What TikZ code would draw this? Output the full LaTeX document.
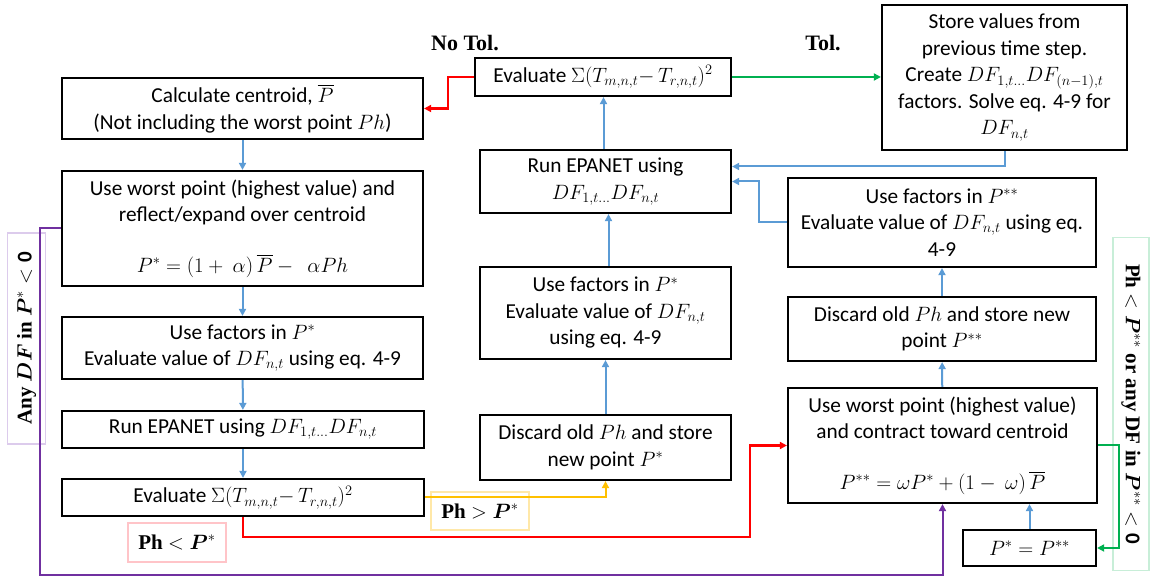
\documentclass[tikz,border=0pt]{standalone}
\usepackage{amsmath,amssymb,bm}
\usepackage{fontspec}
\setmainfont{Carlito}
\newfontfamily\lblfont{Liberation Serif}
\usetikzlibrary{arrows.meta,positioning,calc}
\definecolor{fblue}{HTML}{5B9BD5}
\definecolor{fred}{HTML}{FF0000}
\definecolor{fgreen}{HTML}{00B050}
\definecolor{fyellow}{HTML}{FFC000}
\definecolor{fpurple}{HTML}{7030A0}
\definecolor{tpink}{HTML}{FFC4C8}
\definecolor{tyellow}{HTML}{FFE8A8}
\definecolor{tpurple}{HTML}{DCCBEC}
\definecolor{tgreen}{HTML}{C8EED8}
\newcommand{\pbar}{\overline{P}}
\tikzset{
  box/.style={draw=black,line width=2.2pt,fill=white,align=center,font=\fontsize{21.3}{26.5}\selectfont,inner sep=2pt},
  tag/.style={line width=1.6pt,align=center,font=\fontsize{21}{24}\selectfont\lblfont\bfseries,inner sep=2pt},
  head/.style={font=\fontsize{22}{24}\selectfont\lblfont\bfseries},
  barr/.style={-{Triangle[length=7pt,width=7pt]},line width=2pt,draw=fblue},
  rarr/.style={-{Triangle[length=7pt,width=7pt]},line width=2.4pt,draw=fred},
  garr/.style={-{Triangle[length=7pt,width=7pt]},line width=2pt,draw=fgreen},
  yarr/.style={-{Triangle[length=7pt,width=7pt]},line width=2pt,draw=fyellow},
  parr/.style={-{Triangle[length=7pt,width=7pt]},line width=2pt,draw=fpurple},
}

\begin{document}
\begin{tikzpicture}[x=1pt,y=1pt]
  \useasboundingbox (0,0) rectangle (1152,577);

  % left column: reflection step
  \node[box,minimum width=361,minimum height=61] (cent) at (242.5,468.5)
    {Calculate centroid, $\pbar$\\(Not including the worst point $Ph$)};
  \node[box,minimum width=361,minimum height=115] (refl) at (242.5,348.5)
    {Use worst point (highest value) and\\reflect/expand over centroid\\[24pt]
     $P^{*}=(1+\ \alpha)\,\pbar-\ \ \alpha Ph$};
  \node[box,minimum width=361,minimum height=62] (fac) at (242.5,229)
    {Use factors in $P^{*}$\\Evaluate value of $DF_{n,t}$ using eq. 4-9};
  \node[box,minimum width=362,minimum height=37] (run) at (243,147.5)
    {Run EPANET using $DF_{1,t\ldots}DF_{n,t}$};
  \node[box,minimum width=362,minimum height=37] (eval) at (243,79.5)
    {Evaluate $\Sigma(T_{m,n,t}{-}\,T_{r,n,t})^{2}$};

  % middle column: accept the reflected point
  \node[box,minimum width=256,minimum height=38] (evtop) at (603,500)
    {Evaluate $\Sigma(T_{m,n,t}{-}\,T_{r,n,t})^{2}$};
  \node[box,minimum width=251,minimum height=63] (runm) at (605.5,395.5)
    {Run EPANET using\\$DF_{1,t\ldots}DF_{n,t}$};
  \node[box,minimum width=251,minimum height=92] (facm) at (605.5,264)
    {Use factors in $P^{*}$\\Evaluate value of $DF_{n,t}$\\using eq. 4-9};
  \node[box,minimum width=251,minimum height=65] (discm) at (605.5,129.5)
    {Discard old $Ph$ and store\\new point $P^{*}$};

  % right column: contraction step
  \node[box,minimum width=245,minimum height=145] (store) at (1004.5,499.5)
    {Store values from\\previous time step.\\Create $DF_{1,t\ldots}DF_{(n-1),t}$\\factors. Solve eq. 4-9 for\\$DF_{n,t}$};
  \node[box,minimum width=308,minimum height=89] (facr) at (942,354.5)
    {Use factors in $P^{**}$\\Evaluate value of $DF_{n,t}$ using eq.\\4-9};
  \node[box,minimum width=308,minimum height=64] (discr) at (942,248)
    {Discard old $Ph$ and store new\\point $P^{**}$};
  \node[box,minimum width=309,minimum height=115] (contr) at (942.5,131.5)
    {Use worst point (highest value)\\and contract toward centroid\\[24pt]
     $P^{**}=\omega P^{*}+(1-\ \omega)\,\pbar$};
  \node[box,minimum width=133,minimum height=36] (pstar) at (1029.5,29)
    {$P^{*}=P^{**}$};

  % condition labels
  \node[head] (notol) at (465,534) {No Tol.};
  \node[head] (tol) at (823,534) {Tol.};
  \node[tag,draw=tpink,minimum width=98,minimum height=39] (lblless) at (177,34.5)
    {Ph $<\bm{P}^{*}$};
  \node[tag,draw=tyellow,minimum width=98,minimum height=38] (lblmore) at (480,66)
    {Ph $>\bm{P}^{*}$};
  \node[tag,draw=tpurple,rotate=90,minimum width=211,minimum height=38] (lblany) at (26.5,238.5)
    {Any $\bm{DF}$ in $\bm{P}^{*}<\mathbf{0}$};
  \node[tag,draw=tgreen,rotate=-90,minimum width=333,minimum height=36] (lblcon) at (1131,173)
    {Ph $<\bm{P}^{**}$ or any DF in $\bm{P}^{**}<\mathbf{0}$};

  \coordinate (redbend) at (750,40);
  \coordinate (pbot) at (40,2);

  % connectors
  \draw[barr] (cent) -- (refl);
  \draw[barr] (refl) -- (fac);
  \draw[barr] (fac) -- (run);
  \draw[barr] (run) -- (eval);
  \draw[yarr] (eval.east) -| (discm.south);
  \draw[rarr] (eval.south) |- (redbend) |- (contr.west);
  \draw[barr] (discm) -- (facm);
  \draw[barr] ([xshift=3pt]facm.north) -- ([xshift=3pt]runm.south);
  \draw[barr] ([xshift=-2pt]runm.north) -- ([xshift=-2pt]runm.north |- evtop.south);
  \draw[rarr] (evtop.west) -- ++(-26,0) |- (cent.east);
  \draw[garr] (evtop.east) -- (store.west |- evtop.east);
  \draw[barr] (store.south) |- ([yshift=15pt]runm.east);
  \draw[barr] (facr.west) -- ++(-28,0) |- (runm.east);
  \draw[barr] (discr) -- (facr);
  \draw[barr] (contr) -- (discr);
  \draw[barr] (pstar.north) -- (pstar.north |- contr.south);
  \draw[garr] (contr.east) -- ++(21,0) |- (pstar.east);
  \draw[parr] (refl.west) -| (pbot) -| (contr.south);
\end{tikzpicture}
\end{document}
